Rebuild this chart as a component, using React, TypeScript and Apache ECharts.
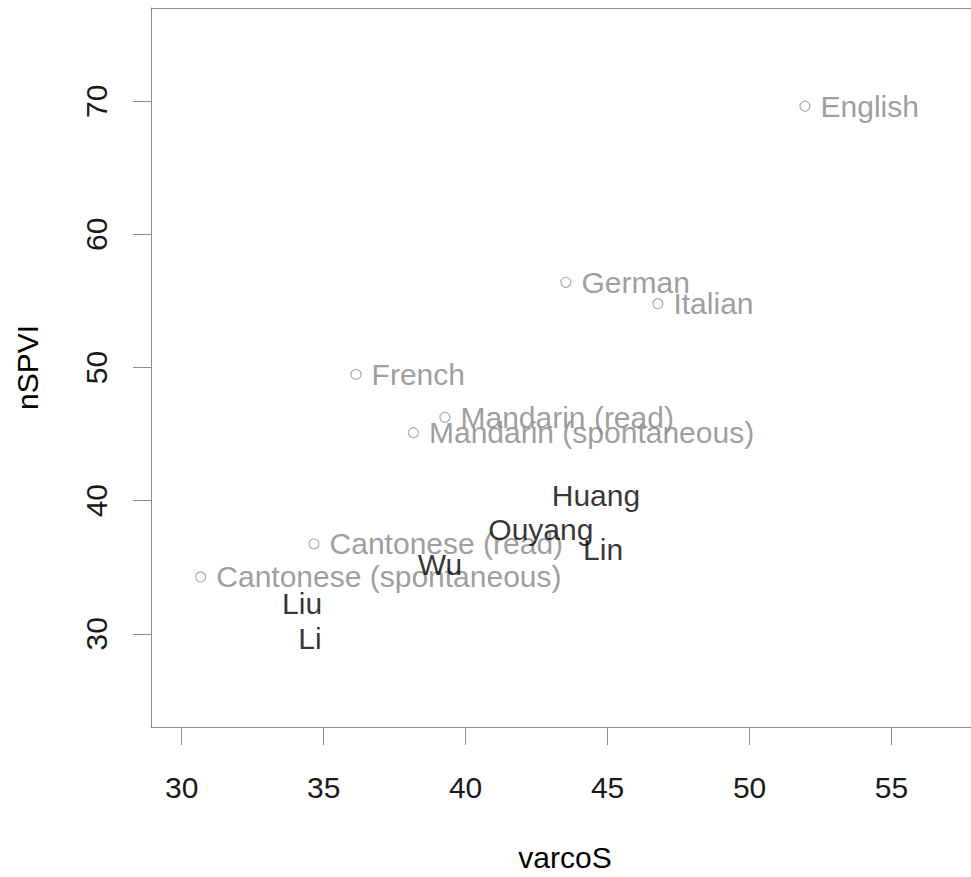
import React, { useEffect, useRef } from "react";
import * as echarts from "echarts";

const languageNames = [
  "English",
  "German",
  "Italian",
  "French",
  "Mandarin (read)",
  "Mandarin (spontaneous)",
  "Cantonese (read)",
  "Cantonese (spontaneous)",
];
const languageVarcoS = [51.95, 43.53, 46.77, 36.14, 39.27, 38.16, 34.66, 30.67];
const languageNPVI = [69.62, 56.4, 54.79, 49.48, 46.26, 45.1, 36.76, 34.27];

const speakerNames = ["Huang", "Ouyang", "Lin", "Wu", "Liu", "Li"];
const speakerVarcoS = [44.59, 42.65, 44.84, 39.1, 34.24, 34.52];
const speakerNPVI = [40.35, 37.83, 36.33, 35.21, 32.29, 29.67];

const xTicks = [30, 35, 40, 45, 50, 55];
const yTicks = [30, 40, 50, 60, 70];

const FONT = "'Liberation Sans', Arial, Helvetica, sans-serif";
const FS = 30;
const BOX = "#8c8c8c";

export default function App() {
  const ref = useRef<HTMLDivElement>(null);
  useEffect(() => {
    if (!ref.current) return;
    const chart = echarts.init(ref.current, null, { renderer: "svg" });
    const langData = languageNames.map((n, i) => ({
      name: n,
      value: [languageVarcoS[i], languageNPVI[i]],
    }));
    const spkData = speakerNames.map((n, i) => ({
      name: n,
      value: [speakerVarcoS[i], speakerNPVI[i]],
    }));
    chart.setOption({
      animation: false,
      backgroundColor: "#ffffff",
      grid: {
        left: 151,
        top: 8,
        bottom: 147,
        right: 21,
        show: false,
      },
      xAxis: [
        {
          type: "value",
          position: "bottom",
          min: 28.92,
          max: 58.08,
          name: "varcoS",
          nameLocation: "middle",
          nameGap: 115,
          nameTextStyle: { fontSize: FS, color: "#000", fontFamily: FONT },
          splitLine: { show: false },
          axisLine: { show: true, onZero: false, lineStyle: { color: BOX, width: 1 } },
          axisTick: {
            show: true,
            length: 18,
            lineStyle: { color: BOX, width: 1 },
            customValues: xTicks,
          },
          axisLabel: {
            customValues: xTicks,
            fontSize: FS,
            color: "#1a1a1a",
            fontFamily: FONT,
            margin: 45,
          },
        },
        {
          type: "value",
          position: "top",
          min: 28.92,
          max: 58.08,
          splitLine: { show: false },
          axisLine: { show: true, onZero: false, lineStyle: { color: BOX, width: 1 } },
          axisTick: { show: false },
          axisLabel: { show: false },
        },
      ],
      yAxis: {
        type: "value",
        min: 23,
        max: 77,
        name: "nSPVI",
        nameLocation: "middle",
        nameGap: 109,
        nameRotate: 90,
        nameTextStyle: { fontSize: FS, color: "#000", fontFamily: FONT },
        splitLine: { show: false },
        axisLine: { show: true, onZero: false, lineStyle: { color: BOX, width: 1 } },
        axisTick: {
          show: true,
          length: 18,
          lineStyle: { color: BOX, width: 1 },
          customValues: yTicks,
        },
        axisLabel: {
          customValues: yTicks,
          rotate: 90,
          fontSize: FS,
          color: "#1a1a1a",
          fontFamily: FONT,
          margin: 40,
        },
      },
      series: [
        {
          type: "scatter",
          name: "languages",
          xAxisIndex: 0,
          data: langData,
          symbol: "circle",
          symbolSize: 10,
          itemStyle: { color: "#ffffff", borderColor: "#9a9a9a", borderWidth: 1.2 },
          label: {
            show: true,
            formatter: "{b}",
            position: "right",
            distance: 10,
            color: "#858585",
            fontSize: FS,
            fontFamily: FONT,
          },
          z: 2,
        },
        {
          type: "scatter",
          name: "speakers",
          xAxisIndex: 0,
          data: spkData,
          symbol: "circle",
          symbolSize: 1,
          itemStyle: { color: "transparent" },
          label: {
            show: true,
            formatter: "{b}",
            position: "inside",
            align: "center",
            verticalAlign: "middle",
            color: "#000000",
            fontSize: FS,
            fontFamily: FONT,
          },
          z: 3,
        },
      ],
    });
    return () => chart.dispose();
  }, []);
  return (
    <div
      style={{
        position: "fixed",
        left: 0,
        top: 0,
        width: 971,
        height: 877,
        overflow: "hidden",
        background: "#ffffff",
      }}
    >
      <div ref={ref} style={{ width: 1000, height: 877 }} />
    </div>
  );
}
